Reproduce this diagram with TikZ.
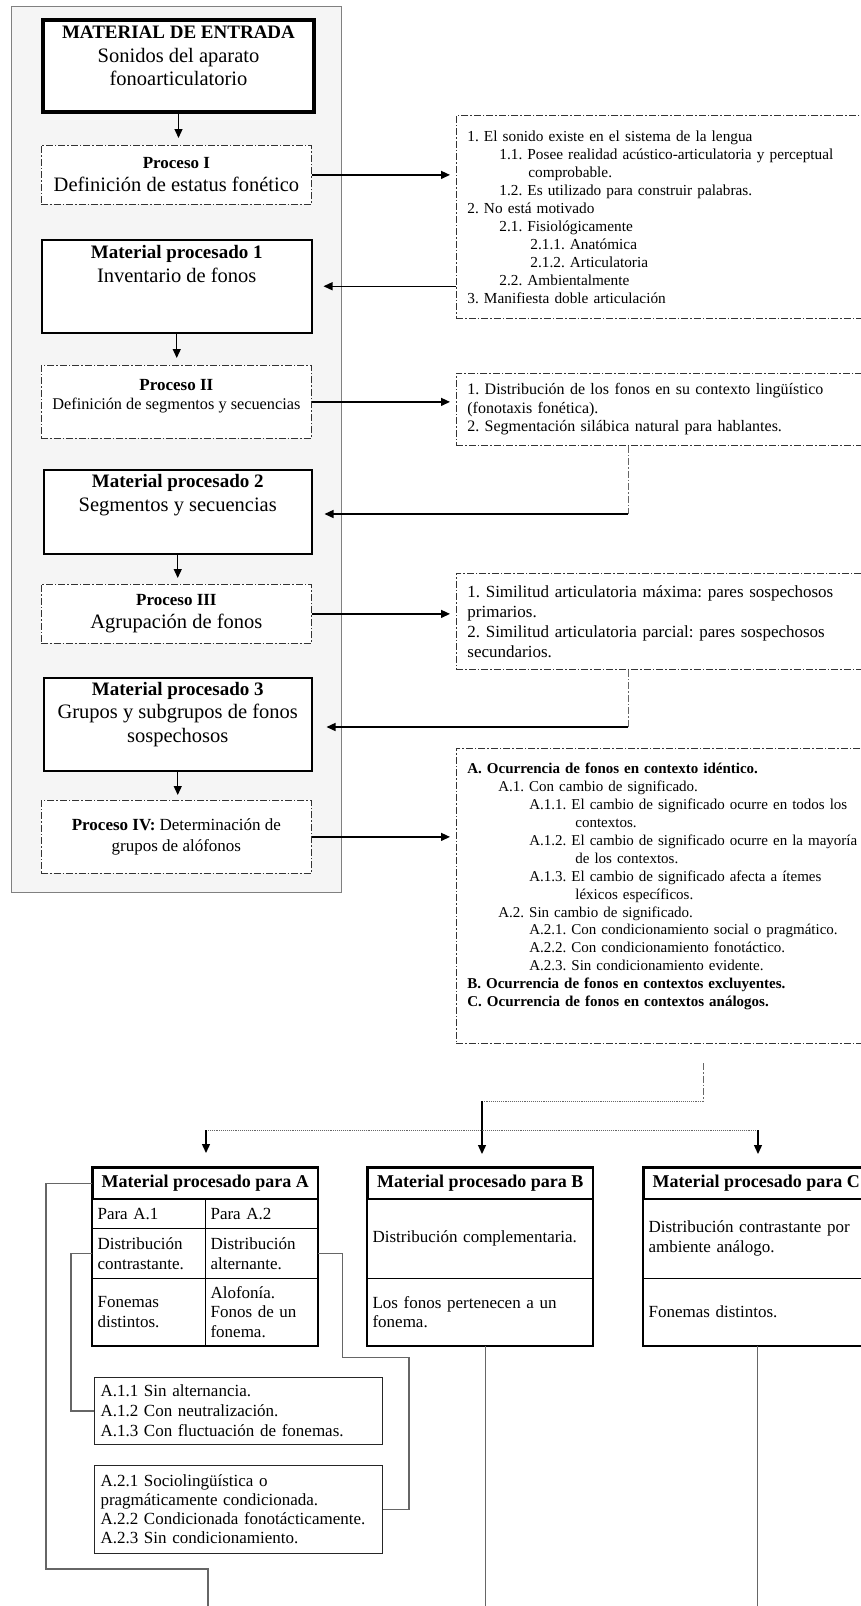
\documentclass[tikz,border=0pt]{standalone}
\usepackage{fontspec}
\setmainfont{Liberation Serif}
\usetikzlibrary{arrows.meta}

\begin{document}
\frenchspacing
\begin{tikzpicture}[x=1pt, y=-1pt,
    arr/.style={-{Triangle[length=9pt, width=8pt]}, line width=1.3pt},
    ddline/.style={dash pattern=on 7pt off 2pt on 1.5pt off 2pt},
    matbox/.style={draw, line width=1.5pt, fill=white, anchor=north west},
    mattext/.style={anchor=north, align=center, inner sep=0pt, font=\fontsize{20.5}{24}\selectfont},
    procbox/.style={draw=black!80, ddline, line width=0.8pt, fill=white, anchor=north west, align=center, inner sep=0pt, font=\fontsize{17}{23}\selectfont},
    listbox/.style={draw=black!80, ddline, line width=0.8pt, anchor=north west, align=left, inner xsep=11pt, inner ysep=0pt, text width=420pt},
    cell/.style={draw, line width=1.1pt, anchor=north west, align=left, inner xsep=5pt, inner ysep=0pt, text width=#1, font=\fontsize{17}{19.5}\selectfont},
    headcell/.style={draw, line width=1.5pt, anchor=north west, minimum width=#1, inner sep=0pt, font=\bfseries\fontsize{18}{20}\selectfont},
    subbox/.style={draw=black!85, line width=1pt, anchor=north west, align=left, inner xsep=6pt, inner ysep=0pt, text width=276pt, font=\fontsize{17}{20}\selectfont},
    link/.style={draw=black!60, line width=1.1pt},
    vlink/.style={draw=black!60, line width=0.9pt, ddline},
    dlink/.style={draw=black!60, line width=0.9pt, densely dotted}]
    \useasboundingbox (0,0) rectangle (860,1606);
        \draw[draw=black!50, fill=black!4, line width=0.8pt] (11,6) rectangle (341,892);

        \node[matbox, line width=4pt, minimum width=271pt, minimum height=92pt] (entrada) at (41,18) {};
        \node[mattext, font=\fontsize{20.5}{23.5}\selectfont] (entradat) at ([yshift=-8pt]entrada.north) {\textbf{\fontsize{19}{23}\selectfont MATERIAL DE ENTRADA}\\Sonidos del aparato\\fonoarticulatorio};
        \node[procbox, minimum width=270pt, minimum height=59pt] (proc1) at (41,145) {\textbf{Proceso I}\\{\fontsize{20.5}{23}\selectfont Definición de estatus fonético}};
        \node[matbox, minimum width=270pt, minimum height=93pt] (mat1) at (41,239) {};
        \node[mattext] (mat1t) at ([yshift=-6pt]mat1.north) {\textbf{\fontsize{19}{24}\selectfont Material procesado 1}\\Inventario de fonos};
        \node[procbox, minimum width=270pt, minimum height=73pt, font=\fontsize{17}{19}\selectfont] (proc2) at (41,365) {\textbf{Proceso II}\\{\fontsize{16.3}{19}\selectfont Definición de segmentos y secuencias}\rule[-14pt]{0pt}{0pt}};
        \node[matbox, minimum width=268pt, minimum height=84pt] (mat2) at (43,469) {};
        \node[mattext] (mat2t) at ([yshift=-5pt]mat2.north) {\textbf{\fontsize{19}{24}\selectfont Material procesado 2}\\Segmentos y secuencias};
        \node[procbox, minimum width=270pt, minimum height=59pt] (proc3) at (41,584) {\textbf{Proceso III}\\{\fontsize{20.5}{23}\selectfont Agrupación de fonos}};
        \node[matbox, minimum width=268pt, minimum height=93pt] (mat3) at (43,677) {};
        \node[mattext, font=\fontsize{20.5}{23.5}\selectfont] (mat3t) at ([yshift=-5pt]mat3.north) {\textbf{\fontsize{19}{24}\selectfont Material procesado 3}\\Grupos y subgrupos de fonos\\sospechosos};
        \node[procbox, minimum width=270pt, minimum height=73pt, font=\fontsize{17}{21}\selectfont] (proc4) at (41,800) {\textbf{Proceso IV:} Determinación de\\grupos de alófonos};

        \node[listbox, minimum height=203pt, font=\fontsize{15.3}{18}\selectfont] (crit1) at (456,115) {1. El sonido existe en el sistema de la lengua\\
            \hspace*{32pt}1.1. Posee realidad acústico-articulatoria y perceptual\\
            \hspace*{61pt}comprobable.\\
            \hspace*{32pt}1.2. Es utilizado para construir palabras.\\
            2. No está motivado\\
            \hspace*{32pt}2.1. Fisiológicamente\\
            \hspace*{63pt}2.1.1. Anatómica\\
            \hspace*{63pt}2.1.2. Articulatoria\\
            \hspace*{32pt}2.2. Ambientalmente\\
            3. Manifiesta doble articulación};
        \node[listbox, minimum height=72pt, font=\fontsize{16}{18.5}\selectfont] (crit2) at (456,373) {1. Distribución de los fonos en su contexto lingüístico\\
            (fonotaxis fonética).\\
            2. Segmentación silábica natural para hablantes.};
        \node[listbox, minimum height=96pt, font=\fontsize{17}{20}\selectfont] (crit3) at (456,573) {1. Similitud articulatoria máxima: pares sospechosos\\
            primarios.\\
            2. Similitud articulatoria parcial: pares sospechosos\\
            secundarios.};
        \node[listbox, minimum height=295pt, font=\fontsize{15}{17.9}\selectfont] (crit4) at (456,748) {\textbf{A. Ocurrencia de fonos en contexto idéntico.}\\
            \hspace*{31pt}A.1. Con cambio de significado.\\
            \hspace*{62pt}A.1.1. El cambio de significado ocurre en todos los\\
            \hspace*{108pt}contextos.\\
            \hspace*{62pt}A.1.2. El cambio de significado ocurre en la mayoría\\
            \hspace*{108pt}de los contextos.\\
            \hspace*{62pt}A.1.3. El cambio de significado afecta a ítemes\\
            \hspace*{108pt}léxicos específicos.\\
            \hspace*{31pt}A.2. Sin cambio de significado.\\
            \hspace*{62pt}A.2.1. Con condicionamiento social o pragmático.\\
            \hspace*{62pt}A.2.2. Con condicionamiento fonotáctico.\\
            \hspace*{62pt}A.2.3. Sin condicionamiento evidente.\\
            \textbf{B. Ocurrencia de fonos en contextos excluyentes.}\\
            \textbf{C. Ocurrencia de fonos en contextos análogos.}\rule[-22pt]{0pt}{0pt}};

        \draw[arr, shorten >=7pt] (entrada.south) -- (entrada.south |- proc1.north);
        \draw[arr, shorten >=7pt] (mat1.south) -- (mat1.south |- proc2.north);
        \draw[arr, shorten >=6pt] (mat2.south) -- (mat2.south |- proc3.north);
        \draw[arr, shorten >=5pt] (mat3.south) -- (mat3.south |- proc4.north);
        \draw[arr, shorten >=6pt] (proc1.east) -- (proc1.east -| crit1.west);
        \draw[arr, shorten >=6pt] (proc2.east) -- (proc2.east -| crit2.west);
        \draw[arr, shorten >=6pt] (proc3.east) -- (proc3.east -| crit3.west);
        \draw[arr, shorten >=6pt] (proc4.east) -- (proc4.east -| crit4.west);
        \draw[arr, shorten >=11pt] (crit1.west |- mat1.east) -- (mat1.east);
        \coordinate (back2) at (628,514);
        \draw[vlink] (back2 |- crit2.south) -- (back2);
        \draw[arr, shorten >=12pt] (back2) -- (back2 -| mat2.east);
        \coordinate (back3) at (628,727);
        \draw[vlink] (back3 |- crit3.south) -- (back3);
        \draw[arr, shorten >=14pt] (back3) -- (back3 -| mat3.east);

        \node[headcell=225pt, minimum height=31pt] (parA) at (92,1167) {Material procesado para A};
        \node[cell=103pt, minimum height=30pt] (parA1) at (92,1198) {Para A.1};
        \node[cell=102pt, minimum height=30pt] (parA2) at (205,1198) {Para A.2};
        \node[cell=103pt, minimum height=50pt] (distA1) at (92,1228) {Distribución\\contrastante.};
        \node[cell=102pt, minimum height=50pt] (distA2) at (205,1228) {Distribución\\alternante.};
        \node[cell=103pt, minimum height=67pt] (fonA1) at (92,1278) {Fonemas\\distintos.};
        \node[cell=102pt, minimum height=67pt] (fonA2) at (205,1278) {Alofonía.\\Fonos de un\\fonema.};
        \draw[line width=1.8pt] (parA.north west) rectangle (fonA2.south east);
        \node[headcell=225pt, minimum height=31pt] (parB) at (367,1167) {Material procesado para B};
        \node[cell=215pt, minimum height=80pt] (distB) at (367,1198) {Distribución complementaria.};
        \node[cell=215pt, minimum height=67pt] (fonB) at (367,1278) {Los fonos pertenecen a un\\fonema.};
        \draw[line width=1.8pt] (parB.north west) rectangle (fonB.south east);
        \node[headcell=225pt, minimum height=31pt] (parC) at (643,1167) {Material procesado para C};
        \node[cell=215pt, minimum height=80pt] (distC) at (643,1198) {Distribución contrastante por\\ambiente análogo.};
        \node[cell=215pt, minimum height=67pt] (fonC) at (643,1278) {Fonemas distintos.};
        \draw[line width=1.8pt] (parC.north west) rectangle (fonC.south east);
        \node[subbox, minimum height=67pt] (altA1) at (94,1377) {A.1.1 Sin alternancia.\\A.1.2 Con neutralización.\\A.1.3 Con fluctuación de fonemas.};
        \node[subbox, minimum height=88pt, font=\fontsize{17}{19}\selectfont] (altA2) at (94,1465) {A.2.1 Sociolingüística o\\pragmáticamente condicionada.\\A.2.2 Condicionada fonotácticamente.\\A.2.3 Sin condicionamiento.};

        \coordinate (split) at (703,1063);
        \coordinate (splitB) at (482,1101);
        \draw[vlink] (split) -- (split |- splitB);
        \draw[dlink] (split |- splitB) -- (splitB);
        \draw[arr, shorten >=13pt] (splitB) -- (splitB |- parB.north);
        \coordinate (splitA) at (206,1130);
        \coordinate (splitC) at (758,1130);
        \draw[dlink] (splitA) -- (splitC);
        \draw[arr, shorten >=14pt] (splitA) -- (splitA |- parA.north);
        \draw[arr, shorten >=13pt] (splitC) -- (splitC |- parC.north);
        \coordinate (outA) at (208,1610);
        \draw[link] (parA.west) -| (46,1569) -| (outA);
        \draw[link] (distA1.west) -- ++(-21,0) |- (altA1.west);
        \draw[link] (distA2.east) -- ++(24,0) -- ++(0,104) -| ([xshift=26pt]altA2.east) -- (altA2.east);
        \draw[link] ([xshift=5pt]fonB.south) -- ++(0,265);
        \draw[link] ([xshift=1.5pt]fonC.south) -- ++(0,265);
    \end{tikzpicture}
\end{document}
